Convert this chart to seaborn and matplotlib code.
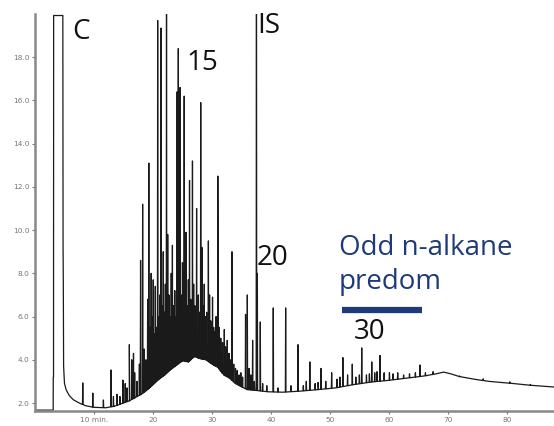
import numpy as np
import matplotlib
matplotlib.use("Agg")
import matplotlib.pyplot as plt
import seaborn as sns
from matplotlib.lines import Line2D

# lower envelope of the chromatogram (time in min, signal)
base_t = [0.0, 3.08, 3.1, 3.14, 3.16, 4.72, 4.76, 4.80, 4.85, 5.0, 5.3, 5.8, 6.5, 7.5, 8.5,
          10, 12, 13.5, 14.5, 16, 17, 18, 19, 20, 21, 22, 23, 24, 25, 26, 27, 28, 29, 30,
          31, 32, 33, 34, 35, 36, 37.5, 39.5, 42, 45, 48, 51, 54, 57, 60, 63, 66, 68, 69.3,
          70.5, 72, 74.5, 77, 80, 84, 88]
base_v = [1.67, 1.67, 3.2, 3.2, 19.93, 19.93, 9.2, 7.6, 3.7, 2.9, 2.6, 2.35, 2.15, 2.0, 1.88,
          1.8, 1.78, 1.85, 1.95, 2.1, 2.25, 2.4, 2.6, 2.85, 3.1, 3.3, 3.55, 3.75, 3.95, 3.9, 4.15,
          4.05, 4.0, 3.8, 3.65, 3.3, 3.15, 2.9, 2.75, 2.62, 2.58, 2.52, 2.5, 2.55, 2.62, 2.7,
          2.85, 2.97, 3.05, 3.15, 3.25, 3.35, 3.43, 3.35, 3.22, 3.1, 3.0, 2.93, 2.82, 2.74]

# peak apexes (retention time, signal)
peak_t = [8.1, 9.8, 11.6, 12.9, 13.3, 13.9, 14.4, 14.9, 15.3, 15.6, 16.0, 16.4, 16.7, 16.9,
          17.3, 17.7, 17.9, 18.25, 18.5, 18.8, 19.1, 19.3, 19.5, 19.7, 19.9, 20.05, 20.25,
          20.4, 20.6, 20.8, 20.95, 21.15, 21.36, 21.55, 21.75, 21.95, 22.1, 22.3, 22.5, 22.7,
          22.9, 23.1, 23.3, 23.5, 23.7, 23.9, 24.1, 24.3, 24.6, 24.8, 25.0, 25.3, 25.45, 25.6,
          25.8, 26.0, 26.2, 26.4, 26.7, 26.9, 27.1, 27.4, 27.7, 27.9, 28.1, 28.3, 28.5, 28.7,
          28.9, 29.1, 29.4, 29.6, 29.8, 30.1, 30.3, 30.5, 30.7, 31.0, 31.2, 31.5, 31.8, 32.1,
          32.3, 32.6, 32.9, 33.1, 33.4, 33.7, 34.0, 34.3, 34.6, 34.9, 35.2, 35.7, 36.0, 36.3,
          36.6, 36.9, 37.2, 37.55, 37.7, 38.2, 38.6, 39.3, 40.4, 41.2, 42.5, 43.4, 44.6, 45.5,
          46.0, 46.6, 47.5, 48.0, 48.5, 49.3, 50.3, 51.2, 51.7, 52.2, 53.0, 53.8, 54.4, 55.0,
          55.4, 56.2, 56.7, 57.1, 57.6, 58.0, 58.5, 59.2, 60.1, 60.7, 61.5, 62.5, 63.5, 64.5,
          65.3, 66.2, 67.5, 72.0, 76.0, 80.5, 84.0]
peak_v = [2.93, 2.46, 2.14, 3.53, 2.3, 2.4, 2.3, 3.06, 2.9, 2.7, 4.7, 4.0, 4.3, 3.4,
          3.0, 3.8, 8.6, 11.2, 4.5, 4.0, 6.8, 13.1, 5.5, 8.0, 6.0, 7.7, 5.2,
          7.4, 5.5, 19.7, 6.0, 7.0, 19.35, 6.5, 9.0, 6.2, 7.5, 20.5, 9.8, 7.0,
          6.0, 8.0, 9.3, 6.5, 7.2, 6.0, 16.4, 18.4, 16.6, 7.0, 8.5, 16.2, 7.0, 9.9,
          6.5, 7.7, 12.3, 6.8, 13.2, 7.5, 6.5, 11.0, 7.0, 6.2, 15.9, 9.2, 6.5, 7.5,
          6.0, 6.2, 9.5, 7.0, 5.8, 6.9, 5.5, 5.3, 6.0, 12.5, 5.5, 5.0, 4.8, 5.4,
          4.6, 4.9, 4.3, 4.0, 9.0, 3.8, 3.6, 3.5, 3.3, 3.4, 3.2, 6.1, 7.0, 3.6,
          3.3, 4.9, 3.0, 26.0, 8.0, 5.75, 2.9, 2.8, 6.4, 2.7, 6.4, 2.8, 4.7, 2.8,
          3.0, 3.9, 2.9, 2.95, 3.6, 3.0, 3.4, 3.1, 3.2, 4.1, 3.3, 3.8, 3.2, 3.3,
          4.55, 3.3, 3.35, 3.9, 3.4, 3.45, 4.2, 3.4, 3.4, 3.35, 3.4, 3.3, 3.35, 3.4,
          3.76, 3.4, 3.45, 3.25, 3.12, 2.98, 2.86]

y_ticks = [2.0, 4.0, 6.0, 8.0, 10.0, 12.0, 14.0, 16.0, 18.0]
x_ticks = [10, 20, 30, 40, 50, 60, 70, 80]
x_tick_labels = ["10 min.", "20", "30", "40", "50", "60", "70", "80"]

# build one trace: baseline points plus a narrow spike at every peak
half_w = 0.05
pk_t = np.array(peak_t)
pk_base = np.interp(pk_t, base_t, base_v)
pts_t = list(base_t)
pts_v = list(base_v)
for t, b, h in zip(pk_t, pk_base, peak_v):
    pts_t += [t - half_w, t, t + half_w]
    pts_v += [b, h, b]
order = np.argsort(pts_t, kind="stable")
trace_t = np.array(pts_t)[order]
trace_v = np.array(pts_v)[order]

sns.set_style("white")
plt.rcParams["font.family"] = ["DejaVu Sans"]

fig = plt.figure(figsize=(5.54, 4.26), dpi=100)
ax = fig.add_axes([35 / 554, 15 / 426, 519 / 554, 397 / 426])

sns.lineplot(x=trace_t, y=trace_v, sort=False, estimator=None, color="#1a1a1a",
             linewidth=0.9, ax=ax)

ax.set_xlim(0, 88)
ax.set_ylim(1.63, 20.0)
ax.set_yticks(y_ticks)
ax.set_yticklabels([f"{v:.1f}" for v in y_ticks])
ax.set_xticks(x_ticks)
ax.set_xticklabels(x_tick_labels)
ax.tick_params(axis="both", direction="out", length=2, width=0.8, colors="#777777",
               labelsize=5.3, pad=2, left=True, bottom=True)
for s in ["top", "right"]:
    ax.spines[s].set_visible(False)
for s in ["left", "bottom"]:
    ax.spines[s].set_color("#888888")
    ax.spines[s].set_linewidth(1.8)
ax.grid(False)
ax.set_xlabel("")
ax.set_ylabel("")

# annotations (placed in figure pixels)
W, H = 554, 426
lab = dict(family=["Open Sans", "DejaVu Sans"], fontsize=20, color="#111111",
           va="center", ha="center")
fig.text(81 / W, 1 - 32 / H, "C", **lab)
fig.text(202 / W, 1 - 63 / H, "15", **lab)
fig.text(269 / W, 1 - 26 / H, "IS", **lab)
fig.text(272 / W, 1 - 258 / H, "20", **lab)
fig.text(370 / W, 1 - 332 / H, "30", **lab)

blue = "#1f3a7a"
fig.text(339 / W, 1 - 255 / H, "Odd n-alkane", family=["Open Sans", "DejaVu Sans"],
         fontsize=20, color=blue, ha="left", va="baseline")
fig.text(339 / W, 1 - 289 / H, "predom", family=["Open Sans", "DejaVu Sans"],
         fontsize=20, color=blue, ha="left", va="baseline")
fig.add_artist(Line2D([342 / W, 422 / W], [1 - 310 / H, 1 - 310 / H],
                      color=blue, linewidth=4.5, solid_capstyle="butt"))

fig.savefig("out.png", dpi=100)
